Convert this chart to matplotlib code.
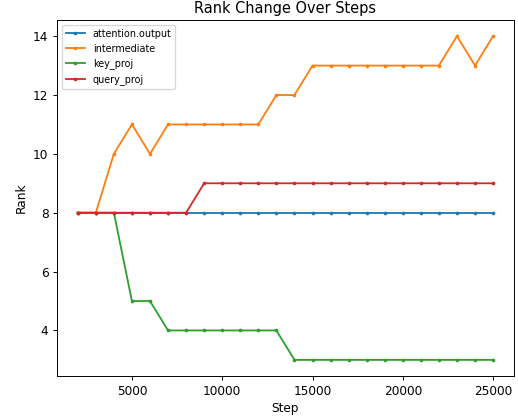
import matplotlib
matplotlib.use("Agg")
import matplotlib.pyplot as plt

steps = list(range(2000, 26000, 1000))
attention_output = [8] * 24
intermediate = [8, 8, 10, 11, 10, 11, 11, 11, 11, 11, 11, 12, 12,
                13, 13, 13, 13, 13, 13, 13, 13, 14, 13, 14]
key_proj = [8, 8, 8, 5, 5, 4, 4, 4, 4, 4, 4, 4, 3,
            3, 3, 3, 3, 3, 3, 3, 3, 3, 3, 3]
query_proj = [8, 8, 8, 8, 8, 8, 8, 9, 9, 9, 9, 9, 9,
              9, 9, 9, 9, 9, 9, 9, 9, 9, 9, 9]

scale = 0.87
fig = plt.figure(figsize=(5.18 / scale, 4.16 / scale), dpi=100 * scale)
ax = fig.add_axes([0.110, 0.096, 0.882, 0.856])
for name, vals in [("attention.output", attention_output), ("intermediate", intermediate),
                   ("key_proj", key_proj), ("query_proj", query_proj)]:
    ax.plot(steps, vals, marker='o', markersize=2, label=name)
ax.set_title("Rank Change Over Steps")
ax.set_xlabel("Step")
ax.set_ylabel("Rank")
ax.legend(loc="upper left", fontsize=8)
fig.savefig("out.png", dpi=100 * scale)
